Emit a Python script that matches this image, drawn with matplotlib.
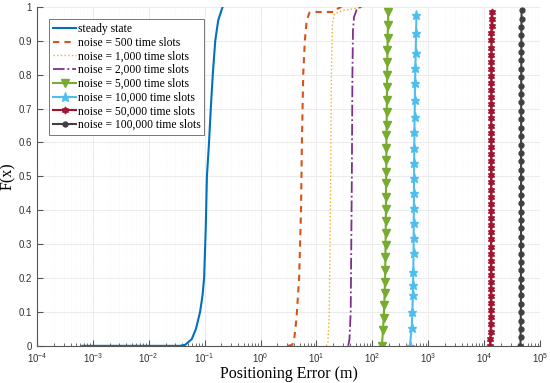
import matplotlib
matplotlib.use("Agg")
import matplotlib.pyplot as plt
from matplotlib.ticker import LogLocator, NullFormatter

# ---- data ----
steady_x = [6.5e-4, 0.01, 0.036, 0.045, 0.059, 0.07, 0.083, 0.092, 0.098, 0.105,
            0.11, 0.12, 0.129, 0.14, 0.155, 0.175, 0.21]
steady_F = [0, 0, 0, 0.003, 0.02, 0.05, 0.1, 0.15, 0.2, 0.35,
            0.5, 0.6, 0.7, 0.8, 0.9, 0.96, 1.0]

n500_x = [3.1, 3.7, 4.0, 4.4, 4.9, 5.3, 5.5, 5.8, 6.2, 6.7, 7.5, 10, 21, 24, 28]
n500_F = [0, 0.003, 0.02, 0.08, 0.2, 0.4, 0.6, 0.8, 0.9, 0.96, 0.983, 0.985, 0.985, 0.995, 1.0]

n1000_x = [15, 16, 17, 17.5, 18, 18.5, 19.3, 21, 30, 50, 68]
n1000_F = [0, 0.01, 0.1, 0.3, 0.5, 0.8, 0.95, 0.98, 0.99, 0.995, 1.0]

n2000_x = [37, 39, 41, 42, 43, 44, 45, 47, 52, 62]
n2000_F = [0, 0.02, 0.1, 0.3, 0.5, 0.8, 0.93, 0.97, 0.99, 1.0]

n5000_x = [148, 155, 160, 163, 166, 168, 170, 171, 172, 173, 174, 175, 175, 176,
           177, 178, 178, 179, 180, 181, 182, 183, 184, 185, 186, 188, 190, 193]
n5000_F = [0, .047, .083, .121, .156, .189, .224, .263, .298, .333, .369, .404, .440, .481,
           .513, .549, .584, .622, .652, .690, .726, .764, .799, .838, .873, .909, .947, .985]

n10000_x = [470, 505, 520, 530, 535, 540, 545, 548, 550, 552, 555, 557, 560, 562,
            565, 570, 575, 580, 588, 595, 605, 615]
n10000_F = [0, .053, .100, .150, .180, .218, .274, .319, .363, .407, .451, .496, .540, .584,
            .631, .676, .726, .776, .820, .864, .923, .976]

n50000_x = [12700, 12900, 13000, 13050, 13100, 13100, 13150, 13150, 13150, 13200,
            13200, 13200, 13200, 13200, 13250, 13250, 13250, 13250, 13250, 13250,
            13300, 13300, 13300, 13300, 13300, 13300, 13300, 13350, 13350, 13350,
            13350, 13350, 13350, 13400, 13400, 13400, 13400, 13400, 13450, 13450,
            13450, 13450, 13500, 13500, 13500, 13550, 13550, 13600]
n50000_F = [0, .021, .042, .063, .084, .105, .126, .147, .168, .189,
            .210, .231, .251, .272, .293, .314, .335, .356, .377, .398,
            .419, .440, .461, .482, .503, .524, .545, .566, .587, .608,
            .629, .650, .671, .692, .713, .734, .754, .775, .796, .817,
            .838, .859, .880, .901, .922, .943, .964, .985]

n100000_x = [44500, 44800, 45000, 45100, 45200, 45200, 45300, 45300, 45400, 45400,
             45400, 45500, 45500, 45500, 45500, 45600, 45600, 45600, 45600, 45700,
             45700, 45700, 45700, 45800, 45800, 45800, 45800, 45900, 45900, 45900,
             46000, 46000, 46000, 46100, 46100, 46200, 46200, 46300, 46400, 46500, 46700]
n100000_F = [0, .025, .050, .074, .099, .124, .149, .173, .198, .223,
             .248, .272, .297, .322, .347, .371, .396, .421, .446, .470,
             .495, .520, .545, .569, .594, .619, .644, .668, .693, .718,
             .743, .767, .792, .817, .842, .866, .891, .916, .941, .965, .990]

labels = ["steady state", "noise = 500 time slots", "noise = 1,000 time slots",
          "noise = 2,000 time slots", "noise = 5,000 time slots", "noise = 10,000 time slots",
          "noise = 50,000 time slots", "noise = 100,000 time slots"]
yticks = [0, 0.1, 0.2, 0.3, 0.4, 0.5, 0.6, 0.7, 0.8, 0.9, 1]
ytick_labels = ["0", "0.1", "0.2", "0.3", "0.4", "0.5", "0.6", "0.7", "0.8", "0.9", "1"]
xticks = [1e-4, 1e-3, 1e-2, 1e-1, 1e0, 1e1, 1e2, 1e3, 1e4, 1e5]

plt.rcParams['font.family'] = ['Liberation Sans', 'DejaVu Sans']
serif = ['Liberation Serif', 'DejaVu Serif']
axcol = '#555555'

fig = plt.figure(figsize=(5.5, 3.83), dpi=100)
ax = fig.add_axes([0.067, 0.097, 0.915, 0.885])

ax.plot(steady_x, steady_F, color='#0072BD', lw=1.5, label=labels[0])
ax.plot(n500_x, n500_F, color='#D95319', lw=1.5, ls=(0, (3, 2.5)), label=labels[1])
ax.plot(n1000_x, n1000_F, color='#EDB120', lw=1.0, ls=':', label=labels[2])
ax.plot(n2000_x, n2000_F, color='#7E2F8E', lw=1.3, ls='-.', label=labels[3])
ax.plot(n5000_x, n5000_F, color='#77AC30', lw=1.5, marker='v', ms=6, label=labels[4])
ax.plot(n10000_x, n10000_F, color='#4DBEEE', lw=1.5, marker='*', ms=6.5, label=labels[5])
ax.plot(n50000_x, n50000_F, color='#A2142F', lw=1.5, marker=(6, 1, 0), ms=5, label=labels[6])
ax.plot(n100000_x, n100000_F, color='#404040', lw=1.5, marker='o', ms=3.5, label=labels[7])

ax.set_xscale('log')
ax.set_xlim(1e-4, 1e5)
ax.set_ylim(0, 1)
ax.set_xticks(xticks)
ax.xaxis.set_minor_locator(LogLocator(base=10, subs=range(2, 10), numticks=20))
ax.xaxis.set_minor_formatter(NullFormatter())
ax.set_yticks(yticks)
ax.set_yticklabels(ytick_labels)

ax.grid(True, which='major', color='#ebebeb', lw=0.7)
ax.grid(True, which='minor', axis='x', color='#f2f2f2', lw=0.5, ls=(0, (1, 1.5)))
ax.set_axisbelow(True)

for s in ['top', 'right']:
    ax.spines[s].set_visible(False)
for s in ['left', 'bottom']:
    ax.spines[s].set_color(axcol)
    ax.spines[s].set_linewidth(0.8)
ax.tick_params(which='both', direction='in', colors=axcol, labelsize=7, labelcolor='#333333')
ax.tick_params(which='major', length=4)
ax.tick_params(which='minor', length=2)

ax.set_xlabel('Positioning Error (m)', fontsize=11.5, family=serif, labelpad=1)
ax.set_ylabel('F(x)', fontsize=11.5, family=serif, labelpad=2)

leg = ax.legend(loc='upper left', bbox_to_anchor=(0.025, 0.963), prop={'family': serif, 'size': 8.4},
                fancybox=False, framealpha=1, edgecolor='#777777', handlelength=2.0,
                handletextpad=0.15, borderpad=0.3, labelspacing=0.15, borderaxespad=0)
leg.get_frame().set_linewidth(0.7)

fig.savefig('out.png', dpi=100)
